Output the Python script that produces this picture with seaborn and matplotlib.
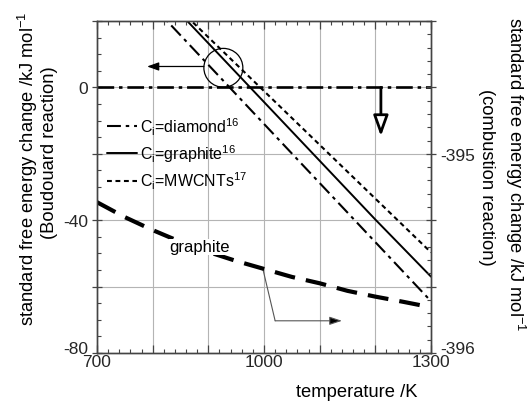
import numpy as np
import pandas as pd
import matplotlib
matplotlib.use("Agg")
import matplotlib.pyplot as plt
import matplotlib.transforms as mtrans
import seaborn as sns
from matplotlib.ticker import MultipleLocator, FixedLocator, FixedFormatter
from matplotlib.patches import Ellipse

# ---------------- data ----------------
temp_lines = [800, 900, 1000, 1100, 1200, 1300]          # K
dg_diamond = [24.6, 6.8, -11.0, -28.8, -46.6, -64.4]      # kJ/mol, Boudouard
dg_graphite = [31.0, 13.3, -4.4, -22.1, -39.8, -57.0]
dg_mwcnts = [31.3, 15.1, -1.1, -17.3, -33.5, -49.7]

zero_temp = [700, 1300]
zero_val = [0.0, 0.0]

temp_comb = [700, 750, 800, 850, 900, 950, 1000, 1050, 1100, 1150, 1200, 1250, 1290]
dg_comb = [-395.243, -395.318, -395.383, -395.442, -395.493, -395.538, -395.578,
           -395.618, -395.650, -395.688, -395.717, -395.743, -395.765]  # combustion

x_ticks = [700, 800, 900, 1000, 1100, 1200, 1300]
x_ticklabels = ["700", "", "", "1000", "", "", "1300"]
yl_ticks = [-80, -60, -40, -20, 0, 20]
yl_ticklabels = ["-80", "", "-40", "", "0", ""]
yr_ticks = [-396, -395 - 2 / 3, -395 - 1 / 3, -395, -394 - 2 / 3, -394 - 1 / 3]
yr_ticklabels = ["-396", "", "", "-395", "", ""]

legend_labels = [r"C$_\mathregular{i}$=diamond$^\mathregular{16}$",
                 r"C$_\mathregular{i}$=graphite$^\mathregular{16}$",
                 r"C$_\mathregular{i}$=MWCNTs$^\mathregular{17}$"]

# ---------------- style ----------------
sns.set_theme(style="ticks")
plt.rcParams["font.family"] = ["Liberation Sans", "DejaVu Sans"]
plt.rcParams["mathtext.fontset"] = "custom"
plt.rcParams["mathtext.rm"] = "Liberation Sans"
plt.rcParams["mathtext.it"] = "Liberation Sans:italic"
plt.rcParams["lines.scale_dashes"] = False
plt.rcParams["text.color"] = "black"

spine_c = "#444444"
grid_c = "#b4b4b4"

fig = plt.figure(figsize=(5.31, 4.02), dpi=100)
ax = fig.add_axes([97 / 531, 48 / 402, 334 / 531, 332 / 402])
ax.set_facecolor("white")

# grid
ax.set_axisbelow(True)
for xv in x_ticks[1:-1]:
    ax.axvline(xv, color=grid_c, lw=0.8, zorder=0)
for yv in yl_ticks[1:-1]:
    ax.axhline(yv, color=grid_c, lw=0.8, zorder=0)

df_lines = pd.DataFrame({"T": temp_lines, "diamond": dg_diamond,
                         "graphite": dg_graphite, "mwcnts": dg_mwcnts})

sns.lineplot(x=zero_temp, y=zero_val, ax=ax, color="black", lw=1.9)
l_zero = ax.lines[-1]
l_zero.set_linestyle((0, (12, 3.5, 2.5, 3.5)))

sns.lineplot(data=df_lines, x="T", y="diamond", ax=ax, color="black", lw=1.5)
l_d = ax.lines[-1]
l_d.set_linestyle((0, (10, 3.5, 2.5, 3.5)))

sns.lineplot(data=df_lines, x="T", y="graphite", ax=ax, color="black", lw=1.4)
l_g = ax.lines[-1]

sns.lineplot(data=df_lines, x="T", y="mwcnts", ax=ax, color="black", lw=1.5)
l_m = ax.lines[-1]
l_m.set_linestyle((0, (3.5, 2.6)))

ax.set_xlim(700, 1300)
ax.set_ylim(-80, 20)
ax.set_xlabel("")
ax.set_ylabel("")

ax.xaxis.set_major_locator(FixedLocator(x_ticks))
ax.xaxis.set_major_formatter(FixedFormatter(x_ticklabels))
ax.xaxis.set_minor_locator(MultipleLocator(20))
ax.yaxis.set_major_locator(FixedLocator(yl_ticks))
ax.yaxis.set_major_formatter(FixedFormatter(yl_ticklabels))
ax.yaxis.set_minor_locator(MultipleLocator(5))

ax.tick_params(axis="x", which="major", direction="in", length=6, width=0.9,
               color=spine_c, top=True, bottom=True, labelsize=12.5, pad=0.5)
ax.tick_params(axis="x", which="minor", direction="in", length=3, width=0.8,
               color=spine_c, top=True, bottom=True)
ax.tick_params(axis="y", which="major", direction="inout", length=7, width=0.9,
               color=spine_c, left=True, right=False, labelsize=12.5, pad=3)
ax.tick_params(axis="y", which="minor", direction="in", length=3, width=0.8,
               color=spine_c, left=True, right=False)
for s in ax.spines.values():
    s.set_color(spine_c)
    s.set_linewidth(1.0)
    s.set_visible(True)

# twin axis (combustion reaction)
ax2 = ax.twinx()
df_comb = pd.DataFrame({"T": temp_comb, "dg": dg_comb})
sns.lineplot(data=df_comb, x="T", y="dg", ax=ax2, color="black", lw=3.0)
l_c = ax2.lines[-1]
l_c.set_linestyle((0, (15, 8)))
l_c.set_solid_capstyle("butt")
l_c.set_dash_capstyle("butt")
ax2.set_ylim(-396, -394 - 1 / 3)
ax2.set_xlim(700, 1300)
ax2.set_ylabel("")
ax2.set_xlabel("")
ax2.yaxis.set_major_locator(FixedLocator(yr_ticks))
ax2.yaxis.set_major_formatter(FixedFormatter(yr_ticklabels))
ax2.yaxis.set_minor_locator(MultipleLocator(1 / 15))
ax2.tick_params(axis="y", which="major", direction="inout", length=7, width=0.9,
                color=spine_c, right=True, left=False, labelsize=12.5, pad=3)
ax2.tick_params(axis="y", which="minor", direction="in", length=3, width=0.8,
                color=spine_c, right=True, left=False)
for s in ax2.spines.values():
    s.set_color(spine_c)
    s.set_linewidth(1.0)

# legend
ax.legend(handles=[l_d, l_g, l_m], labels=legend_labels, loc="center left",
          bbox_to_anchor=(10 / 334, 0.602), frameon=False, fontsize=11.5,
          handlelength=1.9, handletextpad=0.15, labelspacing=0.35,
          borderpad=0, borderaxespad=0)

# annotations
ax.add_patch(Ellipse((927, 5.9), width=70, height=11.7, fill=False,
                     ec="black", lw=0.9, zorder=5))
ax.annotate("", xy=(790, 6.3), xytext=(892, 6.3),
            arrowprops=dict(arrowstyle="-|>,head_length=0.7,head_width=0.25",
                            color="black", lw=0.9, shrinkA=0, shrinkB=0,
                            mutation_scale=10))
ax.annotate("", xy=(1210, -14.7), xytext=(1210, 0),
            arrowprops=dict(arrowstyle="-|>,head_length=1.25,head_width=0.45",
                            fc="white", ec="black", lw=2.0, shrinkA=0, shrinkB=0,
                            mutation_scale=10))
ax.plot([998, 1020], [-54.7, -70.3], color="#555555", lw=0.8, zorder=4)
ax.annotate("", xy=(1140, -70.3), xytext=(1020, -70.3),
            arrowprops=dict(arrowstyle="-|>,head_length=0.75,head_width=0.25",
                            fc="black", ec="#555555", lw=0.8, shrinkA=0, shrinkB=0,
                            mutation_scale=10))
ax2.text(885, -396 + (80 - 48.0) / 60, "graphite", fontsize=12, ha="center",
         va="center", bbox=dict(fc="white", ec="none", pad=0.5), zorder=6)

# axis labels
fig.text(28 / 531, 1 - 168.5 / 402, r"standard free energy change /kJ mol$^\mathregular{-1}$",
         rotation=90, ha="center", va="center", fontsize=13.2)
fig.text(50 / 531, 1 - 153 / 402, "(Boudouard reaction)",
         rotation=90, ha="center", va="center", fontsize=13.2)
fig.text(515 / 531, 1 - 174 / 402, r"standard free energy change /kJ mol$^\mathregular{-1}$",
         rotation=270, ha="center", va="center", fontsize=13.2)
fig.text(487 / 531, 1 - 177.5 / 402, "(combustion reaction)",
         rotation=270, ha="center", va="center", fontsize=13.2)
fig.text(418 / 531, 4.5 / 402, "temperature /K", ha="right", va="baseline",
         fontsize=13.2)

# nudge the two bottom-most y tick labels up slightly, as in the reference
fig.canvas.draw()
lift = mtrans.ScaledTranslation(0, 4 / 72, fig.dpi_scale_trans)
for axis_ in (ax.yaxis, ax2.yaxis):
    for tick in axis_.get_major_ticks():
        for lbl in (tick.label1, tick.label2):
            if lbl.get_text() in ("-80", "-396"):
                lbl.set_transform(lbl.get_transform() + lift)

fig.savefig("out.png", dpi=100, facecolor="white")
